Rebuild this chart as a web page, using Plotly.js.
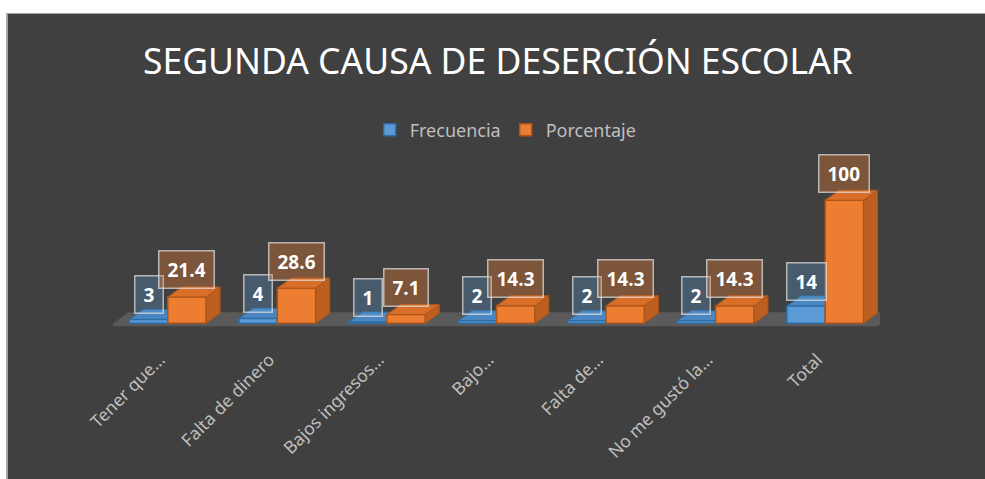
<!DOCTYPE html>
<html><head><meta charset="utf-8">
<script src="https://cdn.plot.ly/plotly-3.0.1.min.js"></script>
<style>
html,body{margin:0;padding:0;background:#fff;width:985px;height:479px;overflow:hidden}
#chart{position:absolute;left:6px;top:13px;width:977px;height:465px;border-left:2px solid #a6a6a6;border-top:1px solid #a6a6a6;background:#404040}
</style></head><body><div id="chart"></div>
<script>
// ---- data ----
const categories = ["Tener que…", "Falta de dinero", "Bajos ingresos…", "Bajo…", "Falta de…", "No me gustó la…", "Total"];
const frecuencia = [3, 4, 1, 2, 2, 2, 14];
const porcentaje = [21.4, 28.6, 7.1, 14.3, 14.3, 14.3, 100];
const seriesNames = ["Frecuencia", "Porcentaje"];
const titleText = "SEGUNDA CAUSA DE DESERCIÓN ESCOLAR";

// ---- geometry / style ----
const W = 977, H = 465;
const margin = {l: 105, r: 105, t: 153, b: 152};
const xRange = [-0.5, categories.length - 0.5];
const yRange = [-3, 127];
const pxPerX = (W - margin.l - margin.r) / (xRange[1] - xRange[0]);
const pxPerY = (H - margin.t - margin.b) / (yRange[1] - yRange[0]);
const depthX = 14 / pxPerX, depthY = 10 / pxPerY;
const barW = 0.35;
const idx = categories.map((_, i) => i);

const blue = {front: '#5b9bd5', top: '#4a87c2', side: '#3c74aa', line: '#2f6ca3'};
const orange = {front: '#ed7d31', top: '#d86e28', side: '#bd5f20', line: '#a9541c'};

const traces = [
  {type: 'bar', name: seriesNames[0], x: idx, y: frecuencia,
   marker: {color: blue.front, line: {color: blue.line, width: 1.5}}, hoverinfo: 'skip'},
  {type: 'bar', name: seriesNames[1], x: idx, y: porcentaje,
   marker: {color: orange.front, line: {color: orange.line, width: 1.5}}, hoverinfo: 'skip'}
];

const shapes = [];
// floor
shapes.push({type: 'path', xref: 'x', yref: 'y', layer: 'below',
  path: `M${xRange[0]-0.03},-2.4 L${xRange[1]-0.02},-2.4 L${xRange[1]+0.12},8.9 L${xRange[0]+0.14},8.9 Z`,
  fillcolor: '#5a5a5a', line: {width: 0}});

function faces(vals, off, col, layer) {
  vals.forEach((v, i) => {
    const x0 = i + off - barW / 2, x1 = i + off + barW / 2;
    shapes.push({type: 'path', xref: 'x', yref: 'y', layer: layer,
      path: `M${x1},0 L${x1+depthX},${depthY} L${x1+depthX},${v+depthY} L${x1},${v} Z`,
      fillcolor: col.side, line: {color: col.line, width: 1}});
    shapes.push({type: 'path', xref: 'x', yref: 'y', layer: layer,
      path: `M${x0},${v} L${x1},${v} L${x1+depthX},${v+depthY} L${x0+depthX},${v+depthY} Z`,
      fillcolor: col.top, line: {color: col.line, width: 1}});
  });
}
faces(frecuencia, -barW / 2, blue, 'below');
faces(porcentaje, barW / 2, orange, 'above');

const labelFont = {family: 'Open Sans', size: 19, color: '#ffffff', weight: 'bold'};
const annotations = [];
frecuencia.forEach((v, i) => annotations.push({x: i - barW / 2, y: v, xref: 'x', yref: 'y',
  text: String(v), showarrow: false, yshift: 25, height: 20, borderpad: 8, font: labelFont,
  bgcolor: 'rgba(91,155,213,0.30)', bordercolor: 'rgba(220,220,220,0.75)', borderwidth: 1.5}));
porcentaje.forEach((v, i) => annotations.push({x: i + barW / 2, y: v, xref: 'x', yref: 'y',
  text: String(v), showarrow: false, yshift: 27, height: 20, borderpad: 8, font: labelFont,
  bgcolor: 'rgba(237,125,49,0.35)', bordercolor: 'rgba(220,220,220,0.75)', borderwidth: 1.5}));

const layout = {
  width: W, height: H, margin: margin,
  paper_bgcolor: '#404040', plot_bgcolor: 'rgba(0,0,0,0)',
  barmode: 'group', bargap: 0.3, bargroupgap: 0,
  title: {text: titleText, x: 0.5015, xanchor: 'center', y: 1 - 48 / H, yanchor: 'middle', yref: 'container',
    font: {family: 'Noto Sans', size: 35.5, color: '#ffffff'}},
  legend: {orientation: 'h', x: 0.512, xanchor: 'center', y: 1 - 116 / H, yanchor: 'middle', yref: 'container',
    font: {family: 'Noto Sans', size: 18, color: '#bfbfbf'}, itemwidth: 30, bgcolor: 'rgba(0,0,0,0)'},
  xaxis: {range: xRange, tickmode: 'array', tickvals: idx, ticktext: categories, tickangle: -45,
    showgrid: false, zeroline: false, showline: false, ticks: '', ticklabelstandoff: 18, ticklabelshift: -8,
    tickfont: {family: 'Noto Sans', size: 17.5, color: '#bfbfbf'}, fixedrange: true},
  yaxis: {range: yRange, visible: false, showgrid: false, zeroline: false, fixedrange: true},
  shapes: shapes, annotations: annotations, showlegend: true
};
Plotly.newPlot('chart', traces, layout, {displayModeBar: false, staticPlot: true});
</script></body></html>
